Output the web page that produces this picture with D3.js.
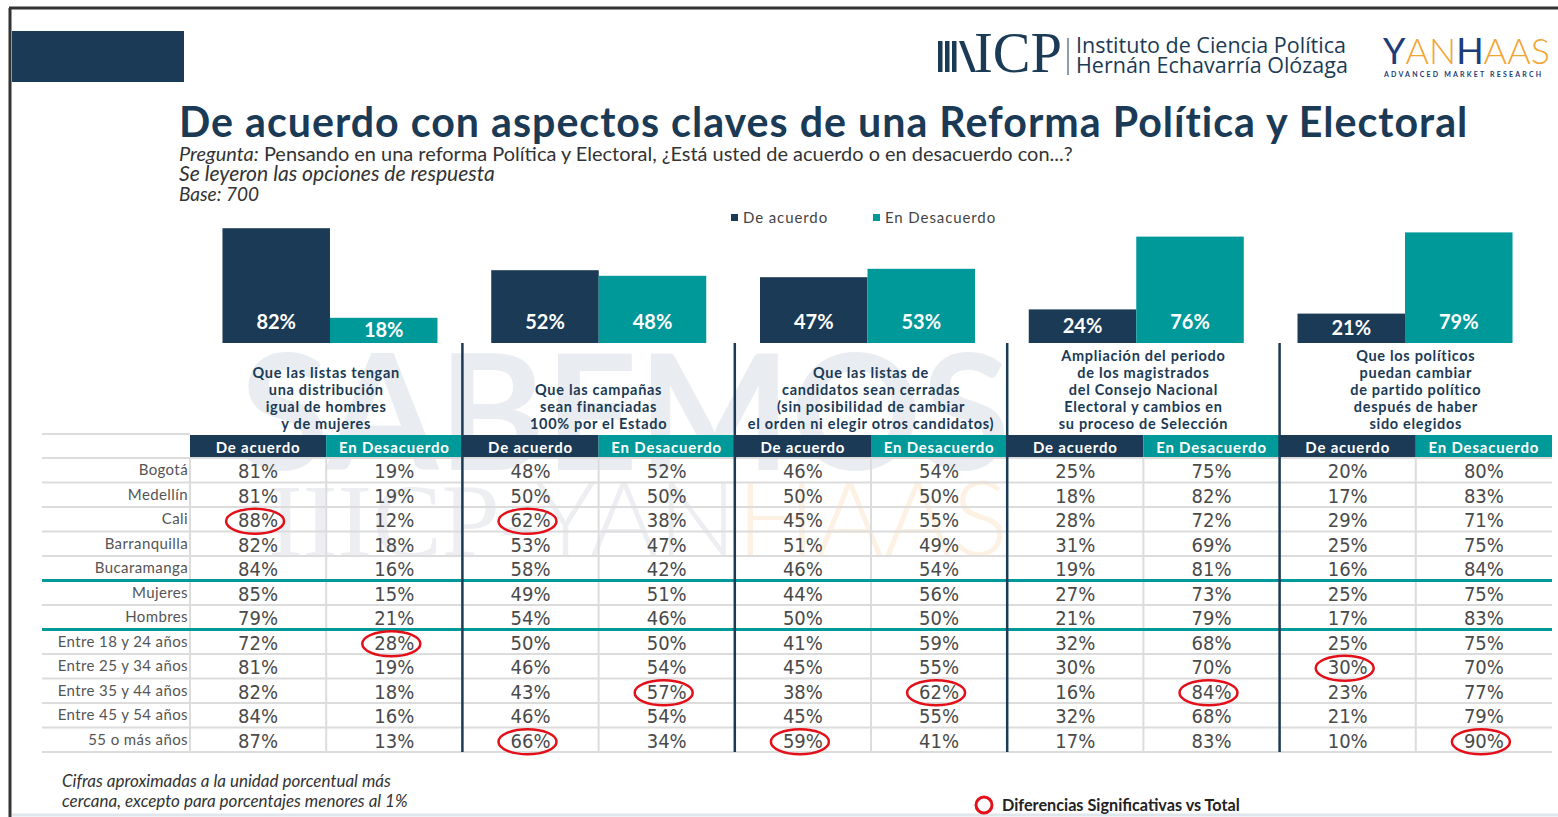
<!DOCTYPE html>
<html>
<head>
<meta charset="utf-8">
<title>Reforma Política y Electoral</title>
<script src="https://d3js.org/d3.v7.min.js"></script>
<style>
  body { margin: 0; background: #fff; }
  svg { display: block; font-family: 'Lato', 'Open Sans', sans-serif; }
</style>
</head>
<body>
<svg width="1558" height="817"></svg>
<script>
(function (d3) {
  'use strict';

  // ---- data ----
  const series = ['De acuerdo', 'En Desacuerdo'];
  const questions = [
    ['Que las listas tengan', 'una distribución', 'igual de hombres', 'y de mujeres'],
    ['Que las campañas', 'sean financiadas', '100% por el Estado'],
    ['Que las listas de', 'candidatos sean cerradas', '(sin posibilidad de cambiar', 'el orden ni elegir otros candidatos)'],
    ['Ampliación del periodo', 'de los magistrados', 'del Consejo Nacional', 'Electoral y cambios en', 'su proceso de Selección'],
    ['Que los políticos', 'puedan cambiar', 'de partido político', 'después de haber', 'sido elegidos']
  ];
  const totalAgree = [82, 52, 47, 24, 21];
  const totalDisagree = [18, 48, 53, 76, 79];

  const rowLabels = ['Bogotá', 'Medellín', 'Cali', 'Barranquilla', 'Bucaramanga',
    'Mujeres', 'Hombres', 'Entre 18 y 24 años', 'Entre 25 y 34 años',
    'Entre 35 y 44 años', 'Entre 45 y 54 años', '55 o más años'];
  const rowValues = [
    [81, 19, 48, 52, 46, 54, 25, 75, 20, 80],
    [81, 19, 50, 50, 50, 50, 18, 82, 17, 83],
    [88, 12, 62, 38, 45, 55, 28, 72, 29, 71],
    [82, 18, 53, 47, 51, 49, 31, 69, 25, 75],
    [84, 16, 58, 42, 46, 54, 19, 81, 16, 84],
    [85, 15, 49, 51, 44, 56, 27, 73, 25, 75],
    [79, 21, 54, 46, 50, 50, 21, 79, 17, 83],
    [72, 28, 50, 50, 41, 59, 32, 68, 25, 75],
    [81, 19, 46, 54, 45, 55, 30, 70, 30, 70],
    [82, 18, 43, 57, 38, 62, 16, 84, 23, 77],
    [84, 16, 46, 54, 45, 55, 32, 68, 21, 79],
    [87, 13, 66, 34, 59, 41, 17, 83, 10, 90]
  ];
  // [row, column] cells flagged as significant vs total
  const significant = [[2, 0], [2, 2], [7, 1], [8, 8], [9, 3], [9, 5], [9, 7], [11, 2], [11, 4], [11, 9]];
  const groupBreaks = [5, 7]; // teal separators before these rows

  const navy = '#1b3a55';
  const teal = '#00999a';
  const color = d3.scaleOrdinal().domain(series).range([navy, teal]);

  const svg = d3.select('svg');
  const fitWidth = (sel, w) => {
    const len = sel.node().getComputedTextLength();
    const fs = parseFloat(sel.attr('font-size'));
    sel.attr('font-size', (fs * w) / len);
  };

  svg.append('rect').attr('width', 1558).attr('height', 817).attr('fill', '#fff');

  // frame
  svg.append('line').attr('x1', 9).attr('x2', 1558).attr('y1', 8).attr('y2', 8)
    .attr('stroke', '#333').attr('stroke-width', 3);
  svg.append('line').attr('x1', 10).attr('x2', 10).attr('y1', 8).attr('y2', 817)
    .attr('stroke', '#333').attr('stroke-width', 3);
  svg.append('line').attr('x1', 12).attr('x2', 1558).attr('y1', 815).attr('y2', 815)
    .attr('stroke', '#dfe6ec').attr('stroke-width', 3);
  svg.append('rect').attr('x', 12).attr('y', 31).attr('width', 172).attr('height', 51).attr('fill', navy);

  // watermarks (faint, behind the table)
  const wm1 = svg.append('text').attr('x', 240).attr('y', 470)
    .attr('font-size', 160).attr('font-weight', 700).attr('fill', '#e9edf1')
    .text('SABEMOS');
  fitWidth(wm1, 770);
  const wm2 = svg.append('text').attr('x', 268).attr('y', 556)
    .attr('font-size', 110).attr('font-family', 'Liberation Serif, serif').attr('fill', '#eceef1');
  wm2.append('tspan').text('IIICP-');
  wm2.append('tspan').attr('font-family', 'Lato, sans-serif').attr('font-weight', 300).text('YAN');
  wm2.append('tspan').attr('font-family', 'Lato, sans-serif').attr('font-weight', 300).attr('fill', '#fcf1e3').text('HAAS');
  fitWidth(wm2, 740);

  // logos
  const icp = svg.append('g');
  [938, 945, 952].forEach((x) => icp.append('rect').attr('x', x).attr('y', 41).attr('width', 4.5).attr('height', 31).attr('fill', navy));
  icp.append('polygon').attr('points', '959,41 964,41 976,72 971,72').attr('fill', navy);
  const icpText = icp.append('text').attr('x', 974).attr('y', 72)
    .attr('font-family', 'Liberation Serif, serif').attr('font-size', 46).attr('fill', navy).text('ICP');
  fitWidth(icpText, 88);
  icp.append('line').attr('x1', 1068).attr('x2', 1068).attr('y1', 38).attr('y2', 75).attr('stroke', navy).attr('stroke-width', 1);
  const inst1 = icp.append('text').attr('x', 1076).attr('y', 53).attr('font-size', 19).attr('fill', navy)
    .attr('font-family', 'Open Sans, sans-serif').text('Instituto de Ciencia Política');
  fitWidth(inst1, 270);
  const inst2 = icp.append('text').attr('x', 1076).attr('y', 73).attr('font-size', 19).attr('fill', navy)
    .attr('font-family', 'Open Sans, sans-serif').text('Hernán Echavarría Olózaga');
  fitWidth(inst2, 272);

  const yan = svg.append('text').attr('x', 1383).attr('y', 64).attr('font-size', 40)
    .attr('font-family', 'Lato, sans-serif').attr('font-weight', 300);
  yan.append('tspan').attr('fill', '#1d3c78').attr('font-weight', 400).text('Y');
  yan.append('tspan').attr('fill', '#f2a533').text('AN');
  yan.append('tspan').attr('fill', '#1d3c78').attr('font-weight', 400).text('H');
  yan.append('tspan').attr('fill', '#f2a533').text('AAS');
  fitWidth(yan, 167);
  svg.append('text').attr('x', 1384).attr('y', 77).attr('font-size', 7)
    .attr('font-weight', 700).attr('fill', '#1d3c78').attr('letter-spacing', 2.2)
    .text('ADVANCED MARKET RESEARCH');

  // title
  const title = svg.append('text').attr('x', 179).attr('y', 137).attr('font-size', 38)
    .attr('font-weight', 700).attr('fill', navy).attr('letter-spacing', 1)
    .text('De acuerdo con aspectos claves de una Reforma Política y Electoral');
  fitWidth(title, 1295);

  const sub = svg.append('g').attr('fill', '#333').attr('font-family', 'Lato, sans-serif');
  const s1 = sub.append('text').attr('x', 179).attr('y', 161).attr('font-size', 17);
  s1.append('tspan').attr('font-style', 'italic').text('Pregunta:');
  s1.append('tspan').text(' Pensando en una reforma Política y Electoral, ¿Está usted de acuerdo o en desacuerdo con...?');
  fitWidth(s1, 894);
  const s2 = sub.append('text').attr('x', 179).attr('y', 181).attr('font-size', 17)
    .attr('font-style', 'italic').text('Se leyeron las opciones de respuesta');
  fitWidth(s2, 316);
  const s3 = sub.append('text').attr('x', 179).attr('y', 201).attr('font-size', 17)
    .attr('font-style', 'italic').text('Base: 700');
  fitWidth(s3, 80);

  // legend
  const legend = svg.append('g').attr('font-size', 15).attr('fill', '#444').attr('letter-spacing', 0.9);
  const legendX = d3.scaleOrdinal().domain(series).range([731, 873]);
  series.forEach((s) => {
    legend.append('rect').attr('x', legendX(s)).attr('y', 214).attr('width', 7).attr('height', 7).attr('fill', color(s));
    legend.append('text').attr('x', legendX(s) + 12).attr('y', 223).text(s);
  });

  // ---- bar chart ----
  const qIdx = d3.range(questions.length);
  const xGroup = d3.scaleBand().domain(qIdx).range([195.6, 1539.4]).paddingInner(0.2).paddingOuter(0.1);
  const xSub = d3.scaleBand().domain(series).range([0, xGroup.bandwidth()]);
  const yBar = d3.scaleLinear().domain([0, 100]).range([343, 203]);

  const barData = [];
  qIdx.forEach((q) => {
    barData.push({ q, s: series[0], v: totalAgree[q] });
    barData.push({ q, s: series[1], v: totalDisagree[q] });
  });

  const bars = svg.append('g');
  bars.selectAll('rect').data(barData).join('rect')
    .attr('x', (d) => xGroup(d.q) + xSub(d.s))
    .attr('y', (d) => yBar(d.v))
    .attr('width', xSub.bandwidth())
    .attr('height', (d) => yBar(0) - yBar(d.v))
    .attr('fill', (d) => color(d.s));
  bars.selectAll('text').data(barData).join('text')
    .attr('x', (d) => xGroup(d.q) + xSub(d.s) + xSub.bandwidth() / 2)
    .attr('y', (d) => Math.max(yBar(0) - 21, (yBar(0) + yBar(d.v)) / 2) + 7)
    .attr('text-anchor', 'middle').attr('fill', '#fff')
    .attr('font-size', 20).attr('font-weight', 700)
    .text((d) => d.v + '%');

  // ---- table ----
  const cols = d3.range(10);
  const xCol = d3.scaleBand().domain(cols).range([190, 1552]);
  const yRow = d3.scaleBand().domain(d3.range(rowLabels.length)).range([458, 752]);
  const groupCenter = (q) => xCol(q * 2) + xCol.bandwidth();

  // question labels
  const qLab = svg.append('g').attr('font-size', 14.5).attr('font-weight', 700).attr('fill', navy)
    .attr('text-anchor', 'middle').attr('letter-spacing', 0.7);
  questions.forEach((lines, q) => {
    lines.forEach((ln, i) => {
      qLab.append('text').attr('x', groupCenter(q))
        .attr('y', 429 - (lines.length - 1 - i) * 17).text(ln);
    });
  });

  // header cells
  const header = svg.append('g');
  header.selectAll('rect').data(cols).join('rect')
    .attr('x', (c) => xCol(c)).attr('y', 435)
    .attr('width', xCol.bandwidth()).attr('height', 23)
    .attr('fill', (c) => color(series[c % 2]));
  header.selectAll('text').data(cols).join('text')
    .attr('x', (c) => xCol(c) + xCol.bandwidth() / 2).attr('y', 452.5)
    .attr('text-anchor', 'middle').attr('fill', '#fff').attr('font-size', 15).attr('font-weight', 700)
    .attr('letter-spacing', 0.8)
    .text((c) => series[c % 2]);

  // grid
  const grid = svg.append('g');
  grid.append('line').attr('x1', 42).attr('x2', 190).attr('y1', 434).attr('y2', 434)
    .attr('stroke', '#dcdcdc').attr('stroke-width', 2);
  grid.selectAll('line.h').data(d3.range(rowLabels.length + 1)).join('line').attr('class', 'h')
    .attr('x1', 42).attr('x2', 1552)
    .attr('y1', (r) => (r < rowLabels.length ? yRow(r) : yRow(r - 1) + yRow.bandwidth()))
    .attr('y2', (r) => (r < rowLabels.length ? yRow(r) : yRow(r - 1) + yRow.bandwidth()))
    .attr('stroke', '#dcdcdc').attr('stroke-width', 2);
  grid.selectAll('line.v').data(cols.filter((c) => c % 2 === 1).concat([0])).join('line').attr('class', 'v')
    .attr('x1', (c) => xCol(c)).attr('x2', (c) => xCol(c))
    .attr('y1', 458).attr('y2', 752)
    .attr('stroke', '#dcdcdc').attr('stroke-width', 2);
  grid.selectAll('line.sep').data(groupBreaks).join('line').attr('class', 'sep')
    .attr('x1', 42).attr('x2', 1552)
    .attr('y1', (r) => yRow(r)).attr('y2', (r) => yRow(r))
    .attr('stroke', teal).attr('stroke-width', 3);
  grid.selectAll('line.q').data(qIdx.slice(1)).join('line').attr('class', 'q')
    .attr('x1', (q) => xCol(q * 2)).attr('x2', (q) => xCol(q * 2))
    .attr('y1', 343).attr('y2', 752)
    .attr('stroke', navy).attr('stroke-width', 2.5);

  // row labels
  svg.append('g').selectAll('text').data(rowLabels).join('text')
    .attr('x', 188).attr('y', (d, i) => yRow(i) + yRow.bandwidth() / 2 + 5)
    .attr('text-anchor', 'end').attr('font-size', 15).attr('fill', '#555').attr('letter-spacing', 0.4)
    .text((d) => d);

  // values
  const cells = [];
  rowValues.forEach((vals, r) => vals.forEach((v, c) => cells.push({ r, c, v })));
  svg.append('g').selectAll('text').data(cells).join('text')
    .attr('x', (d) => xCol(d.c) + xCol.bandwidth() / 2)
    .attr('y', (d) => yRow(d.r) + yRow.bandwidth() / 2 + 8)
    .attr('text-anchor', 'middle').attr('font-size', 20).attr('fill', '#4a4a4a')
    .attr('font-family', 'Liberation Sans Narrow, DejaVu Sans Condensed, sans-serif')
    .text((d) => d.v + '%');

  // significance circles
  svg.append('g').selectAll('ellipse').data(significant).join('ellipse')
    .attr('cx', (d) => xCol(d[1]) + xCol.bandwidth() / 2 - 3)
    .attr('cy', (d) => yRow(d[0]) + yRow.bandwidth() / 2 + 2)
    .attr('rx', 29).attr('ry', 12.5)
    .attr('fill', 'none').attr('stroke', '#e3101a').attr('stroke-width', 2.5);

  // footer
  const foot = svg.append('g').attr('font-style', 'italic').attr('font-size', 17).attr('fill', '#333');
  const f1 = foot.append('text').attr('x', 62).attr('y', 787).text('Cifras aproximadas a la unidad porcentual más');
  fitWidth(f1, 405);
  const f2 = foot.append('text').attr('x', 62).attr('y', 807).text('cercana, excepto para porcentajes menores al 1%');
  fitWidth(f2, 434);

  svg.append('circle').attr('cx', 984).attr('cy', 805).attr('r', 8)
    .attr('fill', 'none').attr('stroke', '#e3101a').attr('stroke-width', 3);
  const sig = svg.append('text').attr('x', 1002).attr('y', 811).attr('font-size', 13)
    .attr('font-weight', 700).attr('fill', '#222').text('Diferencias Significativas vs Total');
  fitWidth(sig, 238);
})(d3);
</script>
</body>
</html>
